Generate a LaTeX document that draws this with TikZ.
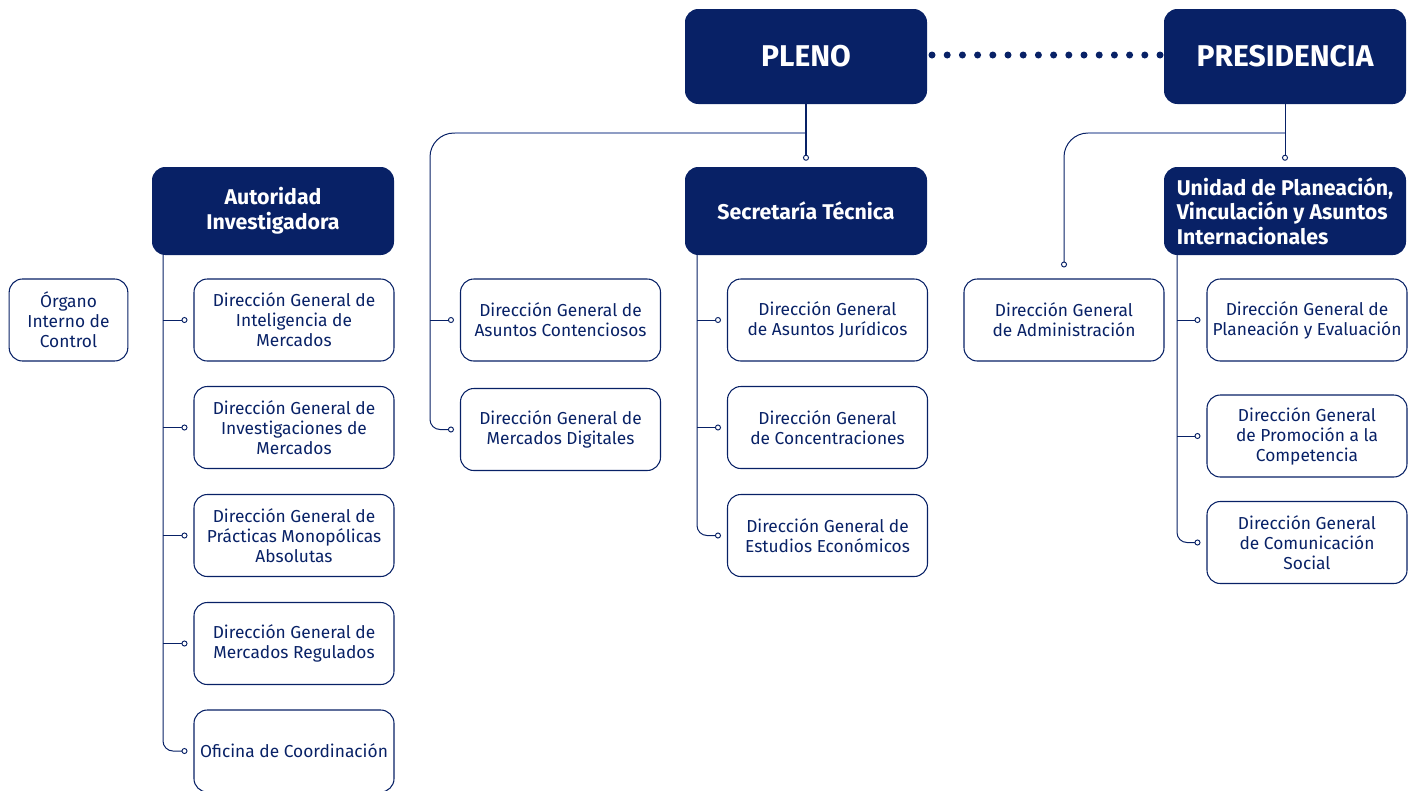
\documentclass[tikz,border=0pt]{standalone}
\usepackage{fontspec}
\setmainfont{Fira Sans}
\usetikzlibrary{arrows.meta}
\definecolor{navy}{RGB}{8,33,102}
\definecolor{lightline}{RGB}{143,157,196}
\begin{document}
\begin{tikzpicture}[x=0.75pt,y=-0.75pt,
  topbox/.style={rectangle, rounded corners=10pt, fill=navy, text=white, font=\bfseries\fontsize{22.5}{24}\selectfont, minimum width=181.5pt, minimum height=71.25pt, inner sep=0pt},
  headbox/.style={rectangle, rounded corners=10pt, fill=navy, text=white, font=\bfseries\fontsize{16}{18.5}\selectfont, minimum width=181.5pt, minimum height=66pt, align=center, inner sep=0pt},
  unitbox/.style={rectangle, rounded corners=10pt, draw=navy, line width=0.8pt, text=navy, font=\fontsize{13}{15}\selectfont, minimum width=150pt, minimum height=61.5pt, align=center, inner sep=0pt},
  conn/.style={draw=navy, line width=0.75pt},
  dotend/.style={-{Circle[length=4.5pt, fill=white, line width=0.7pt]}, shorten >=4.5pt},
  lightl/.style={draw=lightline, line width=1.6pt},
]
\useasboundingbox (0,0) rectangle (1413,790);

% top level
\node[topbox] (pleno) at (806,56.5) {PLENO};
\node[topbox] (pres) at (1285,56.5) {PRESIDENCIA};

% heads
\node[headbox] (ai) at (273,211) {Autoridad\\Investigadora};
\node[headbox] (st) at (806,211) {Secretaría Técnica};
\node[headbox, align=left] (upv) at (1285,211) {Unidad de Planeación,\\Vinculación y Asuntos\\Internacionales};

% organo interno
\node[unitbox, minimum width=89pt] (oic) at (68.5,320) {Órgano\\Interno de\\Control};

% AI children
\node[unitbox] (ai1) at (294,320) {Dirección General de\\Inteligencia de\\Mercados};
\node[unitbox] (ai2) at (294,427.5) {Dirección General de\\Investigaciones de\\Mercados};
\node[unitbox] (ai3) at (294,535.5) {Dirección General de\\Prácticas Monopólicas\\Absolutas};
\node[unitbox] (ai4) at (294,643.5) {Dirección General de\\Mercados Regulados};
\node[unitbox] (ai5) at (294,751) {Oficina de Coordinación};

% Pleno direct children
\node[unitbox] (dac) at (560.5,320) {Dirección General de\\Asuntos Contenciosos};
\node[unitbox] (dmd) at (560.5,429.5) {Dirección General de\\Mercados Digitales};

% ST children
\node[unitbox] (st1) at (827.5,320) {Dirección General\\de Asuntos Jurídicos};
\node[unitbox] (st2) at (827.5,427.5) {Dirección General\\de Concentraciones};
\node[unitbox] (st3) at (827.5,535.5) {Dirección General de\\Estudios Económicos};

% Presidencia direct child
\node[unitbox] (adm) at (1064,320) {Dirección General\\de Administración};

% UPV children
\node[unitbox] (up1) at (1307,320) {Dirección General de\\Planeación y Evaluación};
\node[unitbox] (up2) at (1307,436) {Dirección General\\de Promoción a la\\Competencia};
\node[unitbox] (up3) at (1307,542.5) {Dirección General\\de Comunicación\\Social};

% dotted link
\coordinate (dA) at (932,55);
\coordinate (dB) at (1160,55);
\draw[navy, line width=5.25pt, line cap=round, dash pattern=on 0pt off 11.4pt] (dA) -- (dB);

% PLENO connectors
\coordinate (pj) at (806,133);
\coordinate (pl) at (430,300);
\draw[conn] (pj) [rounded corners=18pt] -| (pl) [rounded corners=7.5pt] |- (dmd.west) [dotend];
\draw[conn, dotend] (pl |- dac.west) -- (dac.west);
\draw[lightl] (pj) -- (455,133);
\draw[navy, line width=1.9pt, dotend] (pleno.south) -- (st.north);

% PRESIDENCIA connectors
\coordinate (prj) at (1285,133);
\draw[conn, rounded corners=18pt, -{Circle[length=4.5pt, fill=white, line width=0.7pt]}, shorten >=8.25pt] (prj) -| (adm.north);
\draw[lightl] (prj) -- (1088,133);
\draw[conn, dotend] (pres.south) -- (upv.north);

% AI trunk
\coordinate (aiT) at (163,255);
\draw[conn, rounded corners=7.5pt, dotend] (aiT) |- (ai5.west);
\foreach \c in {ai1,ai2,ai3,ai4} \draw[conn, dotend] (aiT |- \c.west) -- (\c.west);

% ST trunk
\coordinate (stT) at (697,255);
\draw[conn, rounded corners=7.5pt, dotend] (stT) |- (st3.west);
\foreach \c in {st1,st2} \draw[conn, dotend] (stT |- \c.west) -- (\c.west);

% UPV trunk
\coordinate (upT) at (1177,255);
\draw[conn, rounded corners=7.5pt, dotend] (upT) |- (up3.west);
\foreach \c in {up1,up2} \draw[conn, dotend] (upT |- \c.west) -- (\c.west);
\end{tikzpicture}
\end{document}
